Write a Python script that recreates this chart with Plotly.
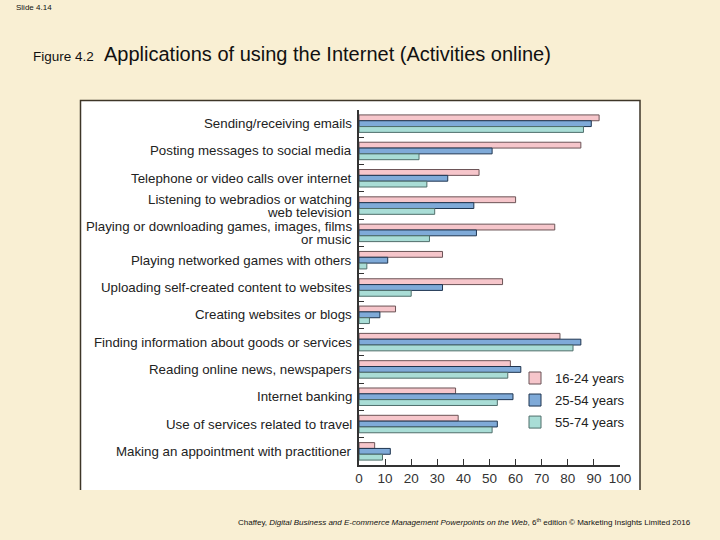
import plotly.graph_objects as go

categories = [
    "Sending/receiving emails",
    "Posting messages to social media",
    "Telephone or video calls over internet",
    "Listening to webradios or watching<br>web television",
    "Playing or downloading games, images, films<br>or music",
    "Playing networked games with others",
    "Uploading self-created content to websites",
    "Creating websites or blogs",
    "Finding information about goods or services",
    "Reading online news, newspapers",
    "Internet banking",
    "Use of services related to travel",
    "Making an appointment with practitioner",
]
age_16_24 = [92, 85, 46, 60, 75, 32, 55, 14, 77, 58, 37, 38, 6]
age_25_54 = [89, 51, 34, 44, 45, 11, 32, 8, 85, 62, 59, 53, 12]
age_55_74 = [86, 23, 26, 29, 27, 3, 20, 4, 82, 57, 53, 51, 9]
series_names = ["16-24 years", "25-54 years", "55-74 years"]
x_ticks = list(range(0, 101, 10))

W, H = 720, 540
ML, MR, MT, MB = 359, 100, 110, 75
PW, PH = W - ML - MR, H - MT - MB


def px2x(px):
    return (px - ML) / PW


def py2y(py):
    return (H - MB - py) / PH


FONT = "Liberation Sans, Arial, Helvetica, sans-serif"
BG = "#F9EFD3"

fills = ["#F6C6CB", "#7FAAD8", "#A9DDD6"]
edges = ["#6B5356", "#1F3550", "#4F6E6A"]

fig = go.Figure()
for name, vals, fc, ec in zip(series_names, [age_16_24, age_25_54, age_55_74], fills, edges):
    fig.add_trace(go.Bar(
        y=categories, x=vals, name=name, orientation="h", legendgroup=name,
        marker=dict(color=fc, line=dict(color=ec, width=1)),
    ))

# category labels as right-aligned text next to the axis (tight line spacing)
label_annotations = []
for cat in categories:
    lines = cat.split("<br>")
    n = len(lines)
    for i, line in enumerate(lines):
        shift = (n - 1) * 6.5 - i * 13
        label_annotations.append(dict(
            text=line, xref="paper", yref="y", x=px2x(354), y=cat,
            xanchor="right", yanchor="middle", yshift=shift, showarrow=False,
            font=dict(size=13.3, color="#222"),
        ))

fig.update_layout(
    width=W, height=H,
    margin=dict(l=ML, r=MR, t=MT, b=MB, pad=0),
    paper_bgcolor=BG, plot_bgcolor="white",
    barmode="group", bargap=0.36, bargroupgap=0,
    font=dict(family=FONT, color="#222"),
    showlegend=True,
    legend=dict(
        x=px2x(515), y=py2y(363), xanchor="left", yanchor="top",
        bgcolor="rgba(0,0,0,0)", font=dict(size=13.1, color="#222"),
        traceorder="grouped", tracegroupgap=2,
    ),
    xaxis=dict(
        range=[0, 100], tickvals=x_ticks, ticks="inside", ticklen=6,
        tickcolor="#333", showline=True, linecolor="#333", linewidth=1.5,
        showgrid=False, zeroline=False, tickfont=dict(size=13.5, color="#333"),
        fixedrange=True,
    ),
    yaxis=dict(
        autorange="reversed", ticks="inside", tickson="boundaries", ticklen=5,
        tickcolor="#333", showline=True, linecolor="#333", linewidth=1.5,
        showgrid=False, showticklabels=False, fixedrange=True,
    ),
    shapes=[
        dict(type="rect", xref="paper", yref="paper",
             x0=px2x(80), x1=px2x(640), y0=py2y(490), y1=py2y(100),
             fillcolor="white", line=dict(width=0), layer="below"),
        dict(type="path", xref="paper", yref="paper",
             path=f"M{px2x(80.5)},{py2y(490)} L{px2x(80.5)},{py2y(100.5)} "
                  f"L{px2x(640)},{py2y(100.5)} L{px2x(640)},{py2y(490)}",
             line=dict(color="#3E3628", width=1.5), layer="above"),
    ],
    annotations=label_annotations + [
        dict(text="Slide 4.14", xref="paper", yref="paper", x=px2x(14), y=py2y(8),
             xanchor="left", yanchor="middle", showarrow=False,
             font=dict(size=8, color="#111")),
        dict(text="Figure 4.2", xref="paper", yref="paper", x=px2x(31), y=py2y(57),
             xanchor="left", yanchor="middle", showarrow=False,
             font=dict(size=13.5, color="#111")),
        dict(text="Applications of using the Internet (Activities online)",
             xref="paper", yref="paper", x=px2x(102), y=py2y(54),
             xanchor="left", yanchor="middle", showarrow=False,
             font=dict(size=20, color="#111")),
        dict(text="Chaffey, <i>Digital Business and E-commerce Management Powerpoints on the Web</i>, "
                  "6<sup>th</sup> edition © Marketing Insights Limited 2016",
             xref="paper", yref="paper", x=px2x(236), y=py2y(522),
             xanchor="left", yanchor="middle", showarrow=False,
             font=dict(size=8, color="#111")),
    ],
)

fig.write_html("out.html", config={"displayModeBar": False},
               post_script="document.body.style.margin='0';")
